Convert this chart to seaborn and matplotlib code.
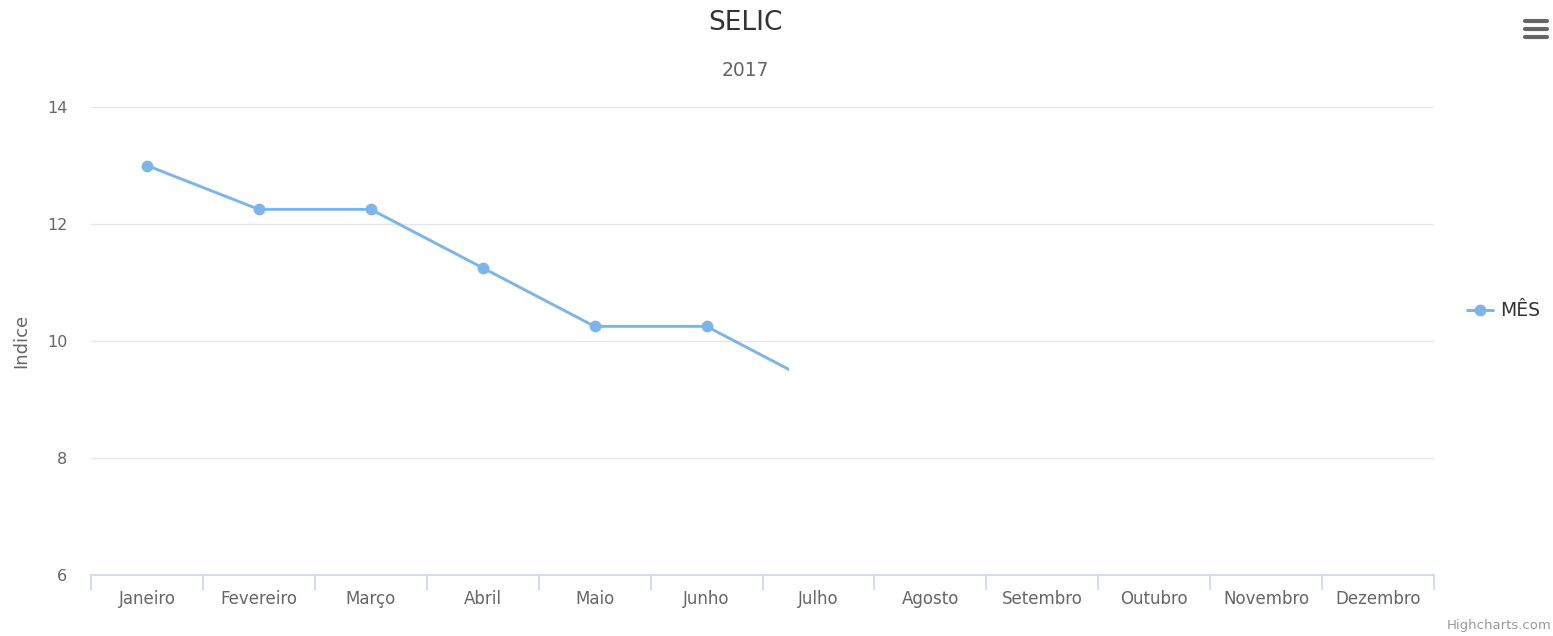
#SELIC line chart - 2017
import pandas as pd
import matplotlib.pyplot as plt
import seaborn as sns
from matplotlib.patches import Rectangle
from matplotlib.lines import Line2D

#data
months = ['Janeiro', 'Fevereiro', 'Março', 'Abril', 'Maio', 'Junho',
          'Julho', 'Agosto', 'Setembro', 'Outubro', 'Novembro', 'Dezembro']
selic = [13, 12.25, 12.25, 11.25, 10.25, 10.25, 9.25]
series_name = 'MÊS'
y_ticks = [6, 8, 10, 12, 14]

df = pd.DataFrame({'pos': list(range(len(selic))), 'valor': selic})

sns.set_style('white')
plt.rcParams['font.family'] = ['DejaVu Sans']

fig = plt.figure(figsize=(15.53, 6.36), dpi=100)
ax = fig.add_axes([91/1553, 1 - 575/636, (1434 - 91)/1553, (575 - 107)/636])

sns.lineplot(data=df, x='pos', y='valor', ax=ax, color='#7cb5ec', linewidth=2.1,
             marker='o', markersize=8.5, markeredgewidth=0, label=series_name)

#the line was caught mid animation, it stops before Julho
clip = Rectangle((-0.5, 0), 5.74 + 0.5, 20, transform=ax.transData)
for ln in ax.get_lines():
    ln.set_clip_path(clip)

ax.set_xlim(-0.5, 11.5)
ax.set_ylim(6, 14)
ax.set_yticks(y_ticks)
ax.set_yticklabels([str(v) for v in y_ticks], color='#666666', fontsize=11.5)
ax.tick_params(axis='y', length=0, pad=17)
for v in y_ticks[1:]:
    ax.axhline(v, color='#e6e6e6', linewidth=1, zorder=0)

#category ticks between months, labels in the middle
ax.set_xticks([i - 0.5 for i in range(len(months) + 1)])
ax.set_xticklabels([''] * (len(months) + 1))
ax.set_xticks(list(range(len(months))), minor=True)
ax.set_xticklabels(months, minor=True, color='#666666', fontsize=12)
ax.tick_params(axis='x', which='major', bottom=True, length=11, width=1.2,
               color='#ccd6eb', direction='out')
ax.tick_params(axis='x', which='minor', bottom=True, length=0, pad=11)

for s in ['top', 'right', 'left']:
    ax.spines[s].set_visible(False)
ax.spines['bottom'].set_color('#ccd6eb')
ax.spines['bottom'].set_linewidth(1.2)

ax.set_xlabel('')
ax.set_ylabel('Indice', color='#666666', fontsize=13)
ax.yaxis.set_label_coords(-0.045, 0.5)

ax.get_legend().remove()
handles, labels = ax.get_legend_handles_labels()
fig.legend(handles, labels, loc='center left', bbox_to_anchor=(1450/1553, 1 - 311/636),
           frameon=False, fontsize=13.5, handlelength=1.4, handletextpad=0.4,
           labelcolor='#333333')

fig.text(745/1553, 1 - 23/636, 'SELIC', ha='center', va='center', fontsize=19, color='#333333')
fig.text(745/1553, 1 - 71/636, '2017', ha='center', va='center', fontsize=13.5, color='#666666')
fig.text(1551/1553, 1 - 626/636, 'Highcharts.com', ha='right', va='center', fontsize=9.5, color='#999999')

#menu icon top right
for yy in [21, 29, 37]:
    fig.add_artist(Line2D([1525/1553, 1547/1553], [1 - yy/636, 1 - yy/636], color='#666666',
                          linewidth=3, solid_capstyle='round'))

plt.savefig('out.png', dpi=100)
